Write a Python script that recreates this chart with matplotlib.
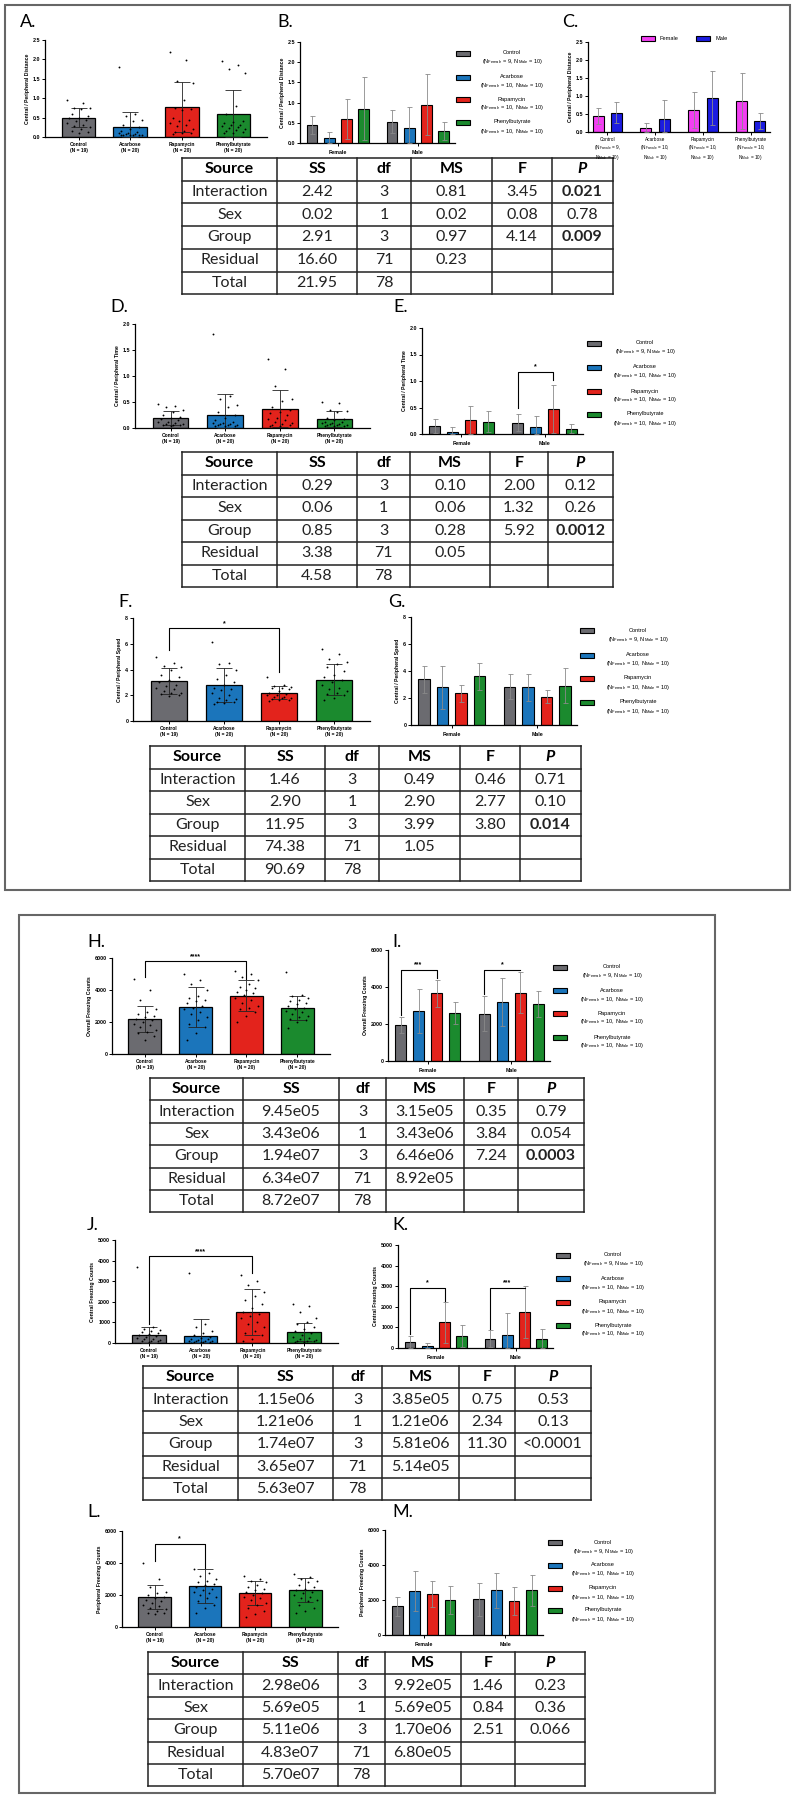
import numpy as np
import matplotlib
matplotlib.use('Agg')
import matplotlib.pyplot as plt
from matplotlib.patches import Rectangle

plt.rcParams['font.family'] = ['Liberation Sans', 'DejaVu Sans']
plt.rcParams['mathtext.default'] = 'regular'

W, H = 799, 1800

# ---------------- data ----------------
groups = ['Control', 'Acarbose', 'Rapamycin', 'Phenylbutyrate']
group_n = [19, 20, 20, 20]
n_female = [9, 10, 10, 10]
n_male = [10, 10, 10, 10]
colors = ['#6b6b70', '#1b75bb', '#e3231c', '#1b8a2e']
sexes = ['Female', 'Male']
sex_colors = ['#f23ff2', '#1c1ce0']

# central / peripheral distance
dist_mean = [0.50, 0.25, 0.78, 0.58]
dist_sd = [0.25, 0.40, 0.65, 0.62]
dist_pts = [
    [0.95, 0.88, 0.76, 0.74, 0.72, 0.60, 0.55, 0.50, 0.48, 0.45, 0.40, 0.35, 0.30, 0.28, 0.25, 0.20, 0.15, 0.12, 0.10],
    [1.80, 0.60, 0.55, 0.45, 0.40, 0.30, 0.25, 0.20, 0.15, 0.12, 0.10, 0.10, 0.08, 0.08, 0.06, 0.06, 0.05, 0.05, 0.04, 0.04],
    [2.20, 1.98, 1.45, 1.40, 0.95, 0.75, 0.72, 0.70, 0.50, 0.45, 0.42, 0.35, 0.30, 0.28, 0.20, 0.15, 0.12, 0.10, 0.10, 0.08],
    [1.95, 1.85, 1.75, 1.65, 0.80, 0.60, 0.40, 0.38, 0.35, 0.32, 0.30, 0.28, 0.25, 0.22, 0.20, 0.18, 0.15, 0.12, 0.10, 0.10],
]
dist_f_mean = [0.45, 0.12, 0.60, 0.85]
dist_f_sd = [0.23, 0.14, 0.50, 0.78]
dist_m_mean = [0.53, 0.37, 0.95, 0.30]
dist_m_sd = [0.29, 0.53, 0.75, 0.22]

# central / peripheral time
time_mean = [0.19, 0.25, 0.37, 0.17]
time_sd = [0.14, 0.40, 0.36, 0.16]
time_pts = [
    [0.47, 0.42, 0.40, 0.35, 0.30, 0.25, 0.22, 0.20, 0.18, 0.15, 0.12, 0.12, 0.10, 0.08, 0.08, 0.06, 0.05, 0.05, 0.04],
    [1.80, 0.62, 0.55, 0.45, 0.40, 0.30, 0.25, 0.20, 0.15, 0.12, 0.10, 0.10, 0.08, 0.08, 0.06, 0.05, 0.05, 0.04, 0.03, 0.03],
    [1.32, 1.13, 0.80, 0.55, 0.52, 0.40, 0.35, 0.30, 0.28, 0.25, 0.20, 0.18, 0.15, 0.12, 0.10, 0.08, 0.06, 0.05, 0.04, 0.03],
    [0.50, 0.48, 0.35, 0.33, 0.30, 0.20, 0.18, 0.15, 0.12, 0.12, 0.10, 0.10, 0.08, 0.08, 0.06, 0.05, 0.05, 0.04, 0.04, 0.03],
]
time_f_mean = [0.15, 0.04, 0.26, 0.23]
time_f_sd = [0.13, 0.09, 0.26, 0.20]
time_m_mean = [0.21, 0.13, 0.47, 0.10]
time_m_sd = [0.16, 0.21, 0.46, 0.09]

# central / peripheral speed
speed_mean = [3.1, 2.8, 2.2, 3.2]
speed_sd = [1.0, 1.3, 0.5, 1.2]
speed_pts = [
    [5.0, 4.5, 4.3, 4.2, 4.0, 3.6, 3.4, 3.2, 3.0, 2.8, 2.7, 2.6, 2.5, 2.3, 2.2, 2.15, 2.1, 2.0, 1.95],
    [6.1, 4.5, 4.4, 4.0, 3.6, 3.3, 3.0, 2.8, 2.6, 2.5, 2.4, 2.2, 2.0, 1.8, 1.7, 1.6, 1.5, 1.45, 1.4, 1.3],
    [3.4, 2.8, 2.7, 2.65, 2.6, 2.55, 2.5, 2.3, 2.2, 2.1, 2.0, 2.0, 1.9, 1.85, 1.8, 1.75, 1.7, 1.65, 1.6, 1.55],
    [5.6, 5.2, 4.8, 4.6, 4.4, 4.2, 3.9, 3.6, 3.4, 3.2, 3.0, 2.8, 2.6, 2.5, 2.3, 2.2, 2.1, 2.0, 1.8, 1.6],
]
speed_f_mean = [3.4, 2.8, 2.35, 3.6]
speed_f_sd = [1.0, 1.6, 0.65, 1.0]
speed_m_mean = [2.85, 2.8, 2.1, 2.9]
speed_m_sd = [0.95, 1.0, 0.5, 1.3]

# overall freezing counts
over_mean = [2200, 2950, 3650, 2850]
over_sd = [800, 1250, 950, 750]
over_pts = [
    [4700, 4000, 3400, 2800, 2600, 2500, 2400, 2300, 2200, 2100, 2000, 1900, 1800, 1700, 1500, 1400, 1300, 1100, 900],
    [5000, 4600, 4400, 4000, 3600, 3500, 3400, 3300, 3200, 3000, 2900, 2800, 2600, 2500, 2300, 2100, 1900, 1700, 1300, 900],
    [5200, 5000, 4800, 4600, 4400, 4200, 4100, 4000, 3900, 3800, 3700, 3500, 3400, 3200, 3000, 2900, 2800, 2600, 2400, 2000],
    [5100, 3700, 3600, 3500, 3400, 3300, 3200, 3100, 3000, 2900, 2800, 2700, 2600, 2500, 2400, 2300, 2200, 2100, 2000, 1600],
]
over_f_mean = [1950, 2700, 3650, 2600]
over_f_sd = [450, 1200, 750, 600]
over_m_mean = [2550, 3200, 3700, 3100]
over_m_sd = [950, 1300, 1100, 700]

# central freezing counts
cent_mean = [380, 350, 1500, 520]
cent_sd = [420, 800, 1100, 430]
cent_pts = [
    [3700, 800, 700, 650, 600, 550, 500, 450, 400, 350, 300, 250, 200, 180, 150, 120, 100, 80, 50],
    [3400, 900, 800, 600, 500, 400, 300, 250, 200, 180, 150, 120, 100, 100, 80, 60, 50, 40, 30, 20],
    [3300, 3000, 2800, 2500, 2300, 2100, 1900, 1700, 1500, 1400, 1300, 1200, 1000, 900, 800, 600, 500, 400, 200, 100],
    [1900, 1800, 1500, 1200, 1000, 900, 800, 700, 600, 500, 400, 300, 250, 200, 150, 120, 100, 80, 50, 30],
]
cent_f_mean = [300, 80, 1250, 570]
cent_f_sd = [300, 150, 1000, 530]
cent_m_mean = [450, 650, 1750, 450]
cent_m_sd = [400, 1050, 1250, 450]

# peripheral freezing counts
peri_mean = [1850, 2550, 2150, 2300]
peri_sd = [750, 1050, 750, 750]
peri_pts = [
    [4000, 3000, 2500, 2200, 2100, 2000, 1900, 1800, 1700, 1600, 1500, 1400, 1300, 1200, 1100, 1000, 900, 850, 800],
    [3600, 3400, 3200, 3000, 2900, 2800, 2700, 2600, 2500, 2400, 2300, 2200, 2100, 2000, 1900, 1800, 1600, 1400, 1200, 900],
    [3200, 3000, 2900, 2800, 2600, 2500, 2400, 2300, 2200, 2100, 2000, 1900, 1800, 1700, 1500, 1400, 1200, 1000, 800, 600],
    [3300, 3100, 3000, 2900, 2800, 2600, 2500, 2400, 2300, 2200, 2100, 2000, 1900, 1800, 1700, 1600, 1400, 1200, 1000, 900],
]
peri_f_mean = [1650, 2500, 2350, 2000]
peri_f_sd = [550, 1150, 750, 800]
peri_m_mean = [2050, 2550, 1950, 2550]
peri_m_sd = [950, 1000, 800, 900]

# two-way ANOVA tables
anova_sources = ['Interaction', 'Sex', 'Group', 'Residual', 'Total']
anova_dist = [['2.42', '3', '0.81', '3.45', '0.021'], ['0.02', '1', '0.02', '0.08', '0.78'],
              ['2.91', '3', '0.97', '4.14', '0.009'], ['16.60', '71', '0.23', '', ''], ['21.95', '78', '', '', '']]
anova_time = [['0.29', '3', '0.10', '2.00', '0.12'], ['0.06', '1', '0.06', '1.32', '0.26'],
              ['0.85', '3', '0.28', '5.92', '0.0012'], ['3.38', '71', '0.05', '', ''], ['4.58', '78', '', '', '']]
anova_speed = [['1.46', '3', '0.49', '0.46', '0.71'], ['2.90', '1', '2.90', '2.77', '0.10'],
               ['11.95', '3', '3.99', '3.80', '0.014'], ['74.38', '71', '1.05', '', ''], ['90.69', '78', '', '', '']]
anova_over = [['9.45e05', '3', '3.15e05', '0.35', '0.79'], ['3.43e06', '1', '3.43e06', '3.84', '0.054'],
              ['1.94e07', '3', '6.46e06', '7.24', '0.0003'], ['6.34e07', '71', '8.92e05', '', ''], ['8.72e07', '78', '', '', '']]
anova_cent = [['1.15e06', '3', '3.85e05', '0.75', '0.53'], ['1.21e06', '1', '1.21e06', '2.34', '0.13'],
              ['1.74e07', '3', '5.81e06', '11.30', '<0.0001'], ['3.65e07', '71', '5.14e05', '', ''], ['5.63e07', '78', '', '', '']]
anova_peri = [['2.98e06', '3', '9.92e05', '1.46', '0.23'], ['5.69e05', '1', '5.69e05', '0.84', '0.36'],
              ['5.11e06', '3', '1.70e06', '2.51', '0.066'], ['4.83e07', '71', '6.80e05', '', ''], ['5.70e07', '78', '', '', '']]
bold_p = {'dist': [0, 2], 'time': [2], 'speed': [2], 'over': [2], 'cent': [], 'peri': []}

# ---------------- drawing helpers ----------------
fig = plt.figure(figsize=(W / 100, H / 100), dpi=100)
ov = fig.add_axes([0, 0, 1, 1])
ov.set_xlim(0, W)
ov.set_ylim(H, 0)
ov.set_axis_off()

FEM_SUB = r'N$_{\mathregular{Female}}$'
MAL_SUB = r'N$_{\mathregular{Male}}$'


def px_axes(x0, y0, x1, y1):
    ax = fig.add_axes([x0 / W, 1 - y1 / H, (x1 - x0) / W, (y1 - y0) / H])
    ax.set_facecolor('none')
    for s in ['top', 'right']:
        ax.spines[s].set_visible(False)
    for s in ['left', 'bottom']:
        ax.spines[s].set_linewidth(0.9)
    ax.tick_params(length=2.2, width=0.7, pad=1.2, labelsize=3.9)
    return ax


def style_y(ax, ymax, ystep, fmt, ylabel):
    ax.set_ylim(0, ymax)
    ticks = np.arange(0, ymax + ystep / 2, ystep)
    ax.set_yticks(ticks)
    ax.set_yticklabels([fmt.format(t) for t in ticks], fontweight='bold')
    ax.set_ylabel(ylabel, fontsize=3.7, fontweight='bold', labelpad=2)


def single_panel(ext, means, sds, pts, ymax, ystep, fmt, ylabel):
    x0, x1, ytop, yzero = ext
    ax = px_axes(x0, ytop, x1, yzero)
    x = np.arange(len(groups))
    ax.bar(x, means, width=0.65, color=colors, edgecolor='black', linewidth=0.9, zorder=2)
    for i in range(len(groups)):
        lo = min(sds[i], means[i])
        ax.errorbar(x[i], means[i], yerr=[[lo], [sds[i]]], fmt='none', ecolor='#222222',
                    elinewidth=0.6, capsize=6, capthick=0.6, zorder=3)
        p = np.asarray(pts[i])
        off = ((np.arange(len(p)) * 7) % 11 - 5) * 0.045
        ax.scatter(x[i] + off, p, s=1.8, color='black', linewidths=0, zorder=4)
    ax.set_xlim(-0.65, 3.65)
    ax.set_xticks(x)
    ax.set_xticklabels(['%s\n(N = %d)' % (g, n) for g, n in zip(groups, group_n)],
                       fontsize=3.5, fontweight='bold', linespacing=1.3)
    style_y(ax, ymax, ystep, fmt, ylabel)
    return ax


def sex_panel(ext, fm, fs, mm, ms, ymax, ystep, fmt, ylabel):
    x0, x1, ytop, yzero = ext
    ax = px_axes(x0, ytop, x1, yzero)
    xf = np.arange(len(groups))
    xm = xf + 4.65
    for xs, mean, sd in [(xf, fm, fs), (xm, mm, ms)]:
        ax.bar(xs, mean, width=0.62, color=colors, edgecolor='black', linewidth=0.8, zorder=2)
        lo = np.minimum(sd, mean)
        ax.errorbar(xs, mean, yerr=[lo, sd], fmt='none', ecolor='#8a8a8a',
                    elinewidth=0.6, capsize=1.8, capthick=0.6, zorder=3)
    ax.set_xlim(-0.7, 8.3)
    ax.set_xticks([xf.mean(), xm.mean()])
    ax.set_xticklabels(sexes, fontsize=3.8, fontweight='bold')
    ax.tick_params(axis='x', pad=3)
    style_y(ax, ymax, ystep, fmt, ylabel)
    return ax


def bracket(ax, xa, xb, ytop, ya, yb, stars, ymax):
    ax.plot([xa, xa, xb, xb], [ya, ytop, ytop, yb], color='black', lw=0.8, zorder=5)
    ax.text((xa + xb) / 2, ytop + ymax * 0.015, stars, ha='center', va='bottom',
            fontsize=5, fontweight='bold')


def legend(xp, xt, ys):
    for i, g in enumerate(groups):
        ov.add_patch(Rectangle((xp - 7, ys[i] - 2.5), 14, 5, facecolor=colors[i],
                               edgecolor='black', lw=0.8))
        ov.text(xt, ys[i], g, ha='center', va='center', fontsize=4.1)
        ov.text(xt, ys[i] + 9, '(%s = %d, %s = %d)' % (FEM_SUB, n_female[i], MAL_SUB, n_male[i]),
                ha='center', va='center', fontsize=4.1)


def table(cols, top, rh, rows, bold_rows):
    header = ['Source', 'SS', 'df', 'MS', 'F', 'P']
    nrow = len(rows) + 1
    for k in range(nrow + 1):
        ov.plot([cols[0], cols[-1]], [top + k * rh] * 2, color='#222222', lw=1.1)
    for c in cols:
        ov.plot([c, c], [top, top + nrow * rh], color='#222222', lw=1.1)
    fs = 11.5
    for j, h in enumerate(header):
        cx = (cols[j] + cols[j + 1]) / 2
        ov.text(cx, top + rh / 2, h, ha='center', va='center', fontsize=fs, fontweight='bold',
                fontstyle='italic' if h == 'P' else 'normal', family='Lato')
    for r, (src, vals) in enumerate(zip(anova_sources, rows)):
        cy = top + (r + 1.5) * rh
        cells = [src] + vals
        for j, v in enumerate(cells):
            cx = (cols[j] + cols[j + 1]) / 2
            bold = (j == 5 and r in bold_rows)
            ov.text(cx, cy, v, ha='center', va='center', fontsize=fs, family='Lato',
                    fontweight='bold' if bold else 'normal', color='#222222')


def panel_label(x, y, s):
    ov.text(x, y, s, ha='left', va='center', fontsize=13, family='Lato')


# ---------------- boxes ----------------
ov.add_patch(Rectangle((5, 5), 785, 885, fill=False, edgecolor='#666666', lw=1.5))
ov.add_patch(Rectangle((19, 915), 696, 878, fill=False, edgecolor='#666666', lw=1.5))

# ---------------- distance (A-C) ----------------
panel_label(20, 22, 'A.')
single_panel((45, 267, 40, 137), dist_mean, dist_sd, dist_pts, 2.5, 0.5, '{:.1f}',
             'Central / Peripheral Distance')
panel_label(277, 22, 'B.')
sex_panel((300, 455, 42, 143), dist_f_mean, dist_f_sd, dist_m_mean, dist_m_sd, 2.5, 0.5, '{:.1f}',
          'Central / Peripheral Distance')
legend(463, 512, [53, 77, 99, 122])

panel_label(562, 22, 'C.')
axc = px_axes(588, 42, 770, 132)
gx = np.arange(len(groups)) * 2.6
axc.bar(gx, dist_f_mean, width=0.6, color=sex_colors[0], edgecolor='black', linewidth=0.8, zorder=2)
axc.bar(gx + 1, dist_m_mean, width=0.6, color=sex_colors[1], edgecolor='black', linewidth=0.8, zorder=2)
axc.errorbar(gx, dist_f_mean, yerr=[np.minimum(dist_f_sd, dist_f_mean), dist_f_sd], fmt='none',
             ecolor='#8a8a8a', elinewidth=0.6, capsize=1.8, capthick=0.6, zorder=3)
axc.errorbar(gx + 1, dist_m_mean, yerr=[np.minimum(dist_m_sd, dist_m_mean), dist_m_sd], fmt='none',
             ecolor='#8a8a8a', elinewidth=0.6, capsize=1.8, capthick=0.6, zorder=3)
axc.set_xlim(-0.55, 9.35)
axc.set_xticks(gx + 0.5)
axc.set_xticklabels(['%s\n(%s = %d,\n%s = %d)' % (g, FEM_SUB, nf, MAL_SUB, nm)
                     for g, nf, nm in zip(groups, n_female, n_male)], fontsize=3.4, linespacing=1.2)
style_y(axc, 2.5, 0.5, '{:.1f}', 'Central / Peripheral Distance')
for xp, s, c in [(648, sexes[0], sex_colors[0]), (703, sexes[1], sex_colors[1])]:
    ov.add_patch(Rectangle((xp - 7, 36), 14, 5, facecolor=c, edgecolor='black', lw=0.8))
    ov.text(xp + 12, 38.5, s, ha='left', va='center', fontsize=4.1)

table([182, 277, 357, 411, 492, 552, 613], 158, 22.7, anova_dist, bold_p['dist'])

# ---------------- time (D-E) ----------------
panel_label(110, 307, 'D.')
single_panel((135, 370, 324, 428), time_mean, time_sd, time_pts, 2.0, 0.5, '{:.1f}',
             'Central / Peripheral Time')
panel_label(393, 307, 'E.')
axe = sex_panel((422, 583, 328, 434), time_f_mean, time_f_sd, time_m_mean, time_m_sd, 2.0, 0.5, '{:.1f}',
                'Central / Peripheral Time')
bracket(axe, 4.65, 6.65, 1.17, 0.49, 1.02, '*', 2.0)
legend(594, 645, [343, 367, 391, 414])
table([182, 277, 357, 410, 490, 548, 613], 452, 22.5, anova_time, bold_p['time'])

# ---------------- speed (F-G) ----------------
panel_label(118, 602, 'F.')
axf = single_panel((133, 370, 618, 721), speed_mean, speed_sd, speed_pts, 8, 2, '{:.0f}',
                   'Central / Peripheral Speed')
bracket(axf, 0, 2, 7.2, 5.5, 3.8, '*', 8)
panel_label(388, 602, 'G.')
sex_panel((411, 577, 617, 725), speed_f_mean, speed_f_sd, speed_m_mean, speed_m_sd, 8, 2, '{:.0f}',
          'Central / Peripheral Speed')
legend(587, 638, [630, 655, 678, 702])
table([150, 245, 325, 379, 460, 520, 581], 746, 22.5, anova_speed, bold_p['speed'])

# ---------------- overall freezing (H-I) ----------------
panel_label(87, 942, 'H.')
axh = single_panel((112, 330, 958, 1054), over_mean, over_sd, over_pts, 6000, 2000, '{:.0f}',
                   'Overall Freezing Counts')
bracket(axh, 0, 2, 5800, 4800, 4700, '****', 6000)
panel_label(392, 942, 'I.')
axi = sex_panel((388, 550, 950, 1061), over_f_mean, over_f_sd, over_m_mean, over_m_sd, 6000, 2000, '{:.0f}',
                'Overall Freezing Counts')
bracket(axi, 0, 2, 4900, 2500, 4500, '***', 6000)
bracket(axi, 4.65, 6.65, 4900, 3600, 4900, '*', 6000)
legend(560, 612, [967, 990, 1013, 1037])
table([150, 243, 339, 386, 464, 518, 584], 1078, 22.4, anova_over, bold_p['over'])

# ---------------- central freezing (J-K) ----------------
panel_label(87, 1225, 'J.')
axj = single_panel((115, 338, 1240, 1343), cent_mean, cent_sd, cent_pts, 5000, 1000, '{:.0f}',
                   'Central Freezing Counts')
bracket(axj, 0, 2, 4200, 900, 3400, '****', 5000)
panel_label(392, 1225, 'K.')
axk = sex_panel((398, 553, 1245, 1348), cent_f_mean, cent_f_sd, cent_m_mean, cent_m_sd, 5000, 1000, '{:.0f}',
                'Central Freezing Counts')
bracket(axk, 0, 2, 2900, 700, 2300, '*', 5000)
bracket(axk, 4.65, 6.65, 2900, 900, 2900, '***', 5000)
legend(563, 613, [1255, 1278, 1302, 1325])
table([143, 238, 333, 382, 459, 515, 591], 1366, 22.4, anova_cent, bold_p['cent'])

# ---------------- peripheral freezing (L-M) ----------------
panel_label(87, 1512, 'L.')
axl = single_panel((122, 338, 1531, 1627), peri_mean, peri_sd, peri_pts, 6000, 2000, '{:.0f}',
                   'Peripheral Freezing Counts')
bracket(axl, 0, 1, 5200, 4100, 3700, '*', 6000)
panel_label(392, 1512, 'M.')
sex_panel((385, 543, 1530, 1635), peri_f_mean, peri_f_sd, peri_m_mean, peri_m_sd, 6000, 2000, '{:.0f}',
          'Peripheral Freezing Counts')
legend(555, 603, [1542, 1565, 1588, 1610])
table([148, 243, 338, 385, 461, 515, 585], 1652, 22.4, anova_peri, bold_p['peri'])

fig.savefig('out.png', dpi=100)
